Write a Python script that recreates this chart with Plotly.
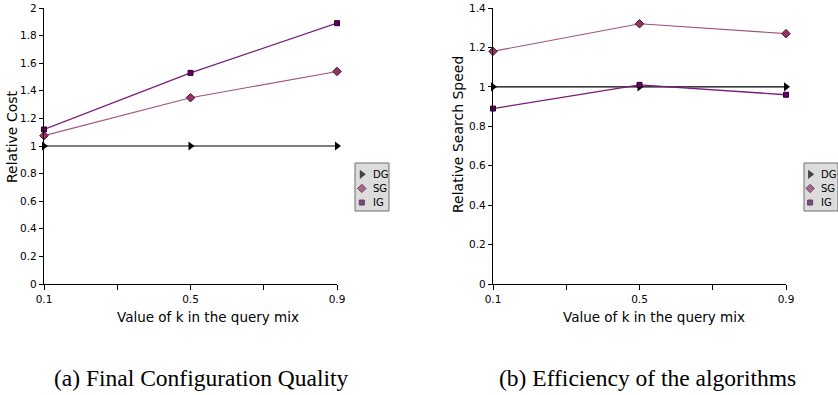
import plotly.graph_objects as go

k_values = [0.1, 0.5, 0.9]
series_names = ["DG", "SG", "IG"]

cost_dg = [1.0, 1.0, 1.0]
cost_sg = [1.075, 1.35, 1.54]
cost_ig = [1.12, 1.53, 1.89]

speed_dg = [1.0, 1.0, 1.0]
speed_sg = [1.18, 1.32, 1.27]
speed_ig = [0.89, 1.01, 0.96]

x_tickvals = [0.1, 0.3, 0.5, 0.7, 0.9]
x_ticktext = ["0.1", "", "0.5", "", "0.9"]
cost_ticks = [0, 0.2, 0.4, 0.6, 0.8, 1, 1.2, 1.4, 1.6, 1.8, 2]
speed_ticks = [0, 0.2, 0.4, 0.6, 0.8, 1, 1.2, 1.4]

W, H = 838, 395
styles = {
    "DG": dict(line=dict(color="#000000", width=1.2),
               marker=dict(symbol="triangle-right", size=8, color="#000000")),
    "SG": dict(line=dict(color="#a0527a", width=1.1),
               marker=dict(symbol="diamond", size=6.5, color="#993366",
                           line=dict(color="#3a1030", width=1))),
    "IG": dict(line=dict(color="#7a1a7a", width=1.3),
               marker=dict(symbol="square", size=5, color="#660066",
                           line=dict(color="#2a002a", width=1))),
}


def px_x(p):
    return p / W


def px_y(p):
    return 1 - p / H


fig = go.Figure()
panels = [
    ("x", "y", [cost_dg, cost_sg, cost_ig]),
    ("x2", "y2", [speed_dg, speed_sg, speed_ig]),
]
for xa, ya, vals in panels:
    for name, v in zip(series_names, vals):
        st = styles[name]
        fig.add_trace(go.Scatter(x=k_values, y=v, mode="lines+markers", name=name,
                                 xaxis=xa, yaxis=ya, line=st["line"], marker=st["marker"],
                                 showlegend=False, cliponaxis=False))

# hand-made legends (one per panel)
legend_boxes = [  # (left px, right px, axes, marker frac, text frac)
    (355, 389, ("x3", "y3"), 0.2, 0.46),
    (804, 838, ("x4", "y4"), 0.18, 0.44),
]
rows = list(range(len(series_names)))
for left, right, (xa, ya), mfrac, tfrac in legend_boxes:
    fig.add_shape(type="rect", xref="paper", yref="paper",
                  x0=px_x(left), x1=px_x(right), y0=px_y(211), y1=px_y(163),
                  fillcolor="#dcdcdc", line=dict(color="#6e6e6e", width=1), layer="below")
    fig.add_trace(go.Scatter(
        x=[mfrac] * len(rows), y=rows, mode="markers", xaxis=xa, yaxis=ya,
        showlegend=False, hoverinfo="skip",
        marker=dict(symbol=[styles[n]["marker"]["symbol"] for n in series_names],
                    size=[styles[n]["marker"]["size"] for n in series_names],
                    color=[styles[n]["marker"]["color"] for n in series_names],
                    line=dict(color=["#000000", "#3a1030", "#2a002a"], width=[0, 1, 1]))))
    for r, n in zip(rows, series_names):
        fig.add_annotation(text=n, x=tfrac, y=r, xref=xa, yref=ya, showarrow=False,
                           xanchor="left", yanchor="middle",
                           font=dict(family="DejaVu Sans", size=10, color="black"))

axis_common = dict(showline=True, linecolor="black", linewidth=1.3, ticks="outside",
                   ticklen=4, tickcolor="black", tickwidth=1, showgrid=False, zeroline=False,
                   automargin=False,
                   tickfont=dict(family="DejaVu Sans", size=10.5, color="black"))
hidden = dict(visible=False, showgrid=False, zeroline=False, automargin=False)

fig.update_layout(
    width=W, height=H, margin=dict(l=0, r=0, t=0, b=0),
    paper_bgcolor="white", plot_bgcolor="white",
    xaxis=dict(axis_common, domain=[px_x(44), px_x(337)], range=[0.1, 0.9],
               tickvals=x_tickvals, ticktext=x_ticktext, anchor="y", ticklen=5),
    yaxis=dict(axis_common, domain=[px_y(284), px_y(8)], range=[0, 2],
               tickvals=cost_ticks, anchor="x"),
    xaxis2=dict(axis_common, domain=[px_x(493), px_x(786)], range=[0.1, 0.9],
                tickvals=x_tickvals, ticktext=x_ticktext, anchor="y2", ticklen=5),
    yaxis2=dict(axis_common, domain=[px_y(284), px_y(8)], range=[0, 1.4],
                tickvals=speed_ticks, anchor="x2"),
    xaxis3=dict(hidden, domain=[px_x(355), px_x(389)], range=[0, 1], anchor="y3"),
    yaxis3=dict(hidden, domain=[px_y(211), px_y(163)], range=[2.6, -0.8], anchor="x3"),
    xaxis4=dict(hidden, domain=[px_x(804), px_x(838)], range=[0, 1], anchor="y4"),
    yaxis4=dict(hidden, domain=[px_y(211), px_y(163)], range=[2.6, -0.8], anchor="x4"),
    showlegend=False,
)

ax_font = dict(family="DejaVu Sans", size=14, color="black")
xt_font = dict(family="DejaVu Sans", size=13.5, color="black")
cap_font = dict(family="Liberation Serif", size=23.5, color="black")
annotations = [
    dict(text="Relative Cost", x=px_x(12), y=px_y(137), textangle=-90, font=ax_font),
    dict(text="Value of k in the query mix", x=px_x(208), y=px_y(317), font=xt_font),
    dict(text="Relative Search Speed", x=px_x(458), y=px_y(135), textangle=-90, font=ax_font),
    dict(text="Value of k in the query mix", x=px_x(654), y=px_y(317), font=xt_font),
    dict(text="(a) Final Configuration Quality", x=px_x(201), y=px_y(378), font=cap_font),
    dict(text="(b) Efficiency of the algorithms", x=px_x(647), y=px_y(378), font=cap_font),
]
for a in annotations:
    fig.add_annotation(xref="paper", yref="paper", showarrow=False,
                       xanchor="center", yanchor="middle", **a)

fig.write_html("out.html", config={"displayModeBar": False},
               post_script="document.body.style.margin='0';document.body.style.overflow='hidden';")
